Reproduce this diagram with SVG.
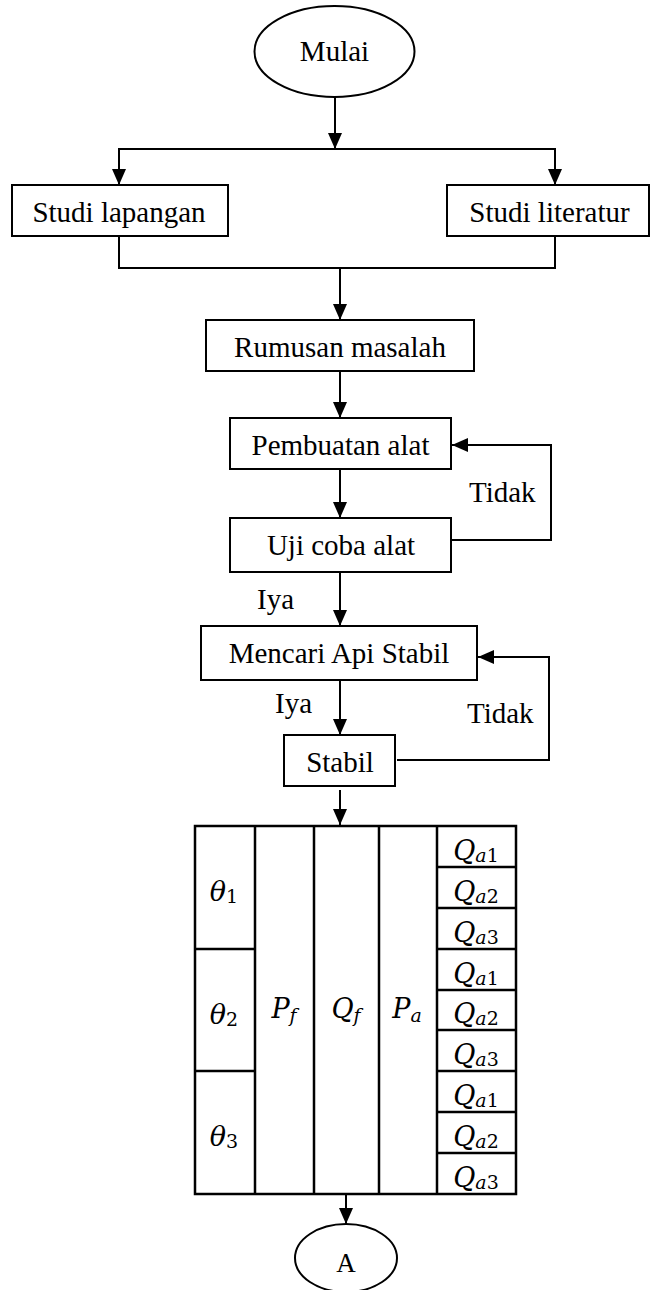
<svg xmlns="http://www.w3.org/2000/svg" width="651" height="1290" viewBox="0 0 651 1290">
<style>
.bg{fill:#fff}
.box{fill:#fff;stroke:#000;stroke-width:2}
.ln{fill:none;stroke:#000;stroke-width:2}
.tl{fill:none;stroke:#000;stroke-width:2.5}
.t{font-family:"Liberation Serif","Times New Roman",serif;font-size:29px;fill:#000}
.c{text-anchor:middle}
.m{font-family:"DejaVu Serif","Liberation Serif",serif;font-size:27px;font-style:italic;fill:#000;text-anchor:middle}
.s{font-size:19px;font-style:italic}
.d{font-size:19px;font-style:normal}
</style>
<defs>
<marker id="ah" viewBox="0 0 16 14" refX="16" refY="7" markerWidth="16" markerHeight="14" markerUnits="userSpaceOnUse" orient="auto">
<path d="M0,0 L16,7 L0,14 z" fill="#000"/>
</marker>
</defs>
<rect class="bg" x="0" y="0" width="651" height="1290"/>

<g id="connectors">
<line class="ln" x1="335" y1="97" x2="335" y2="149" marker-end="url(#ah)"/>
<line class="ln" x1="119" y1="149" x2="555" y2="149"/>
<line class="ln" x1="119" y1="148" x2="119" y2="185" marker-end="url(#ah)"/>
<line class="ln" x1="555" y1="148" x2="555" y2="185" marker-end="url(#ah)"/>
<polyline class="ln" points="119,236 119,268 555,268 555,236"/>
<line class="ln" x1="340" y1="268" x2="340" y2="320" marker-end="url(#ah)"/>
<line class="ln" x1="340" y1="371" x2="340" y2="418" marker-end="url(#ah)"/>
<line class="ln" x1="340" y1="469" x2="340" y2="518" marker-end="url(#ah)"/>
<polyline class="ln" points="451,540 551,540 551,445 452,445" marker-end="url(#ah)"/>
<line class="ln" x1="340" y1="572" x2="340" y2="626" marker-end="url(#ah)"/>
<line class="ln" x1="340" y1="680" x2="340" y2="735" marker-end="url(#ah)"/>
<polyline class="ln" points="397,760 549,760 549,657 478,657" marker-end="url(#ah)"/>
<line class="ln" x1="340" y1="790" x2="340" y2="825" marker-end="url(#ah)"/>
<line class="ln" x1="346" y1="1194" x2="346" y2="1224" marker-end="url(#ah)"/>
<text class="t" x="469" y="502">Tidak</text>
<text class="t" x="257" y="609">Iya</text>
<text class="t" x="275" y="713">Iya</text>
<text class="t" x="467" y="723">Tidak</text>
</g>

<g id="mulai">
<ellipse class="box" cx="334.5" cy="51.5" rx="80" ry="45.5"/>
<text class="t c" x="334.5" y="61">Mulai</text>
</g>
<g id="studi-lapangan">
<rect class="box" x="12" y="185" width="216" height="51"/>
<text class="t c" x="119" y="222">Studi lapangan</text>
</g>
<g id="studi-literatur">
<rect class="box" x="447" y="185" width="202" height="51"/>
<text class="t c" x="549.5" y="222">Studi literatur</text>
</g>
<g id="rumusan">
<rect class="box" x="206" y="320" width="268" height="51"/>
<text class="t c" x="340" y="357">Rumusan masalah</text>
</g>
<g id="pembuatan">
<rect class="box" x="230" y="418" width="221" height="51"/>
<text class="t c" x="340.5" y="455">Pembuatan alat</text>
</g>
<g id="uji">
<rect class="box" x="230" y="518" width="221" height="54"/>
<text class="t c" x="341" y="555">Uji coba alat</text>
</g>
<g id="mencari">
<rect class="box" x="201" y="626" width="276" height="54"/>
<text class="t c" x="339" y="663">Mencari Api Stabil</text>
</g>
<g id="stabil">
<rect class="box" x="284" y="735" width="111" height="51"/>
<text class="t c" x="340" y="772">Stabil</text>
</g>

<g id="table">
<rect class="tl" x="195" y="826" width="321" height="368" fill="#fff"/>
<line class="tl" x1="255" y1="826" x2="255" y2="1194"/>
<line class="tl" x1="314" y1="826" x2="314" y2="1194"/>
<line class="tl" x1="379" y1="826" x2="379" y2="1194"/>
<line class="tl" x1="437" y1="826" x2="437" y2="1194"/>
<line class="tl" x1="195" y1="949" x2="255" y2="949"/>
<line class="tl" x1="195" y1="1071" x2="255" y2="1071"/>
<line class="tl" x1="437" y1="867" x2="516" y2="867"/>
<line class="tl" x1="437" y1="908" x2="516" y2="908"/>
<line class="tl" x1="437" y1="949" x2="516" y2="949"/>
<line class="tl" x1="437" y1="990" x2="516" y2="990"/>
<line class="tl" x1="437" y1="1030" x2="516" y2="1030"/>
<line class="tl" x1="437" y1="1071" x2="516" y2="1071"/>
<line class="tl" x1="437" y1="1112" x2="516" y2="1112"/>
<line class="tl" x1="437" y1="1153" x2="516" y2="1153"/>
<text class="m" x="224" y="901">θ<tspan class="d" dy="2">1</tspan></text>
<text class="m" x="224" y="1024">θ<tspan class="d" dy="2">2</tspan></text>
<text class="m" x="224" y="1146">θ<tspan class="d" dy="2">3</tspan></text>
<text class="m" x="284" y="1018">P<tspan class="s" dy="4">f</tspan></text>
<text class="m" x="346" y="1018">Q<tspan class="s" dy="4">f</tspan></text>
<text class="m" x="407" y="1018">P<tspan class="s" dy="4">a</tspan></text>
<text class="m" x="476" y="860">Q<tspan class="s" dy="2">a</tspan><tspan class="d">1</tspan></text>
<text class="m" x="476" y="901">Q<tspan class="s" dy="2">a</tspan><tspan class="d">2</tspan></text>
<text class="m" x="476" y="942">Q<tspan class="s" dy="2">a</tspan><tspan class="d">3</tspan></text>
<text class="m" x="476" y="983">Q<tspan class="s" dy="2">a</tspan><tspan class="d">1</tspan></text>
<text class="m" x="476" y="1023">Q<tspan class="s" dy="2">a</tspan><tspan class="d">2</tspan></text>
<text class="m" x="476" y="1064">Q<tspan class="s" dy="2">a</tspan><tspan class="d">3</tspan></text>
<text class="m" x="476" y="1105">Q<tspan class="s" dy="2">a</tspan><tspan class="d">1</tspan></text>
<text class="m" x="476" y="1146">Q<tspan class="s" dy="2">a</tspan><tspan class="d">2</tspan></text>
<text class="m" x="476" y="1187">Q<tspan class="s" dy="2">a</tspan><tspan class="d">3</tspan></text>
</g>

<g id="a">
<ellipse class="box" cx="346" cy="1258" rx="51" ry="34"/>
<text class="t c" x="346" y="1272" style="font-size:27px">A</text>
</g>
</svg>
